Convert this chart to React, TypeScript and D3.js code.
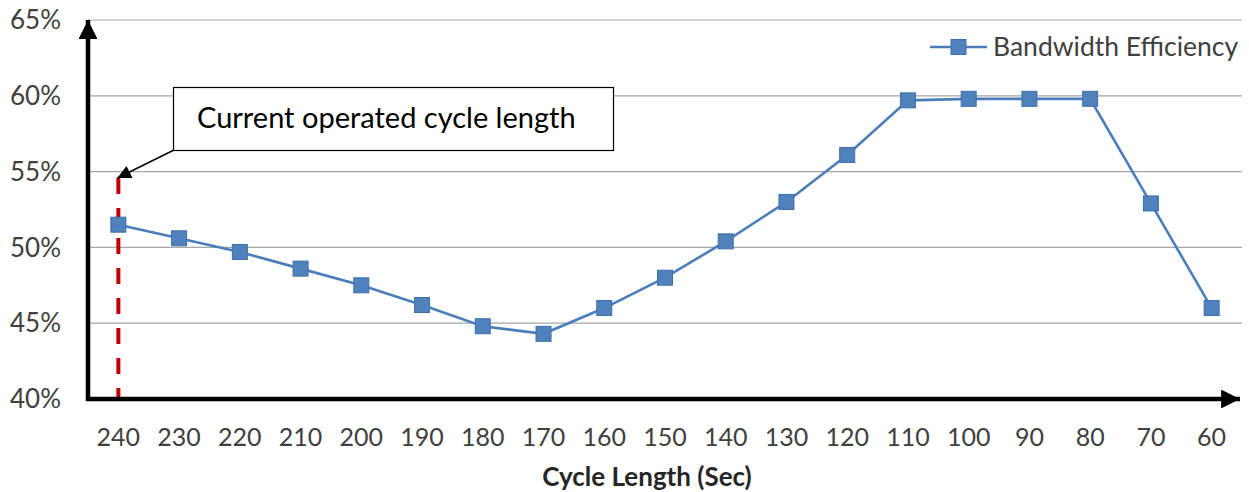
import React, { useEffect, useRef } from 'react';
import * as d3 from 'd3';

const cycleLengths = ['240', '230', '220', '210', '200', '190', '180', '170', '160', '150', '140', '130', '120', '110', '100', '90', '80', '70', '60'];
const efficiency = [51.5, 50.6, 49.7, 48.6, 47.5, 46.2, 44.8, 44.3, 46.0, 48.0, 50.4, 53.0, 56.1, 59.7, 59.8, 59.8, 59.8, 52.9, 46.0];
const yTicks = [40, 45, 50, 55, 60, 65];
const seriesName = 'Bandwidth Efficiency';
const xTitle = 'Cycle Length (Sec)';
const note = 'Current operated cycle length';
const currentCycle = '240';

const App: React.FC = () => {
  const svgRef = useRef<SVGSVGElement>(null);

  useEffect(() => {
    if (!svgRef.current) return;
    const svg = d3.select(svgRef.current);
    svg.selectAll('*').remove();

    const width = 1249;
    const height = 492;
    const left = 88;
    const right = 1242;
    const top = 20;
    const bottom = 399;
    const font = 'Lato, "Open Sans", sans-serif';
    const blue = '#4F81BD';
    const ms = 15; // marker size

    svg.attr('width', width).attr('height', height);

    const x = d3.scaleBand<string>().domain(cycleLengths).range([left, right]);
    const y = d3.scaleLinear().domain([40, 65]).range([bottom, top]);
    const cx = (d: string) => (x(d) as number) + x.bandwidth() / 2;

    const defs = svg.append('defs');
    defs.append('marker')
      .attr('id', 'axisArrow')
      .attr('viewBox', '0 0 10 10')
      .attr('refX', 10).attr('refY', 5)
      .attr('markerWidth', 4.2).attr('markerHeight', 4.2)
      .attr('markerUnits', 'strokeWidth')
      .attr('orient', 'auto')
      .append('path').attr('d', 'M0,0 L10,5 L0,10 Z').attr('fill', '#000');
    defs.append('marker')
      .attr('id', 'noteArrow')
      .attr('viewBox', '0 0 10 10')
      .attr('refX', 10).attr('refY', 5)
      .attr('markerWidth', 10).attr('markerHeight', 9)
      .attr('markerUnits', 'strokeWidth')
      .attr('orient', 'auto')
      .append('path').attr('d', 'M0,0 L10,5 L0,10 Z').attr('fill', '#000');

    // gridlines
    svg.append('g')
      .selectAll('line')
      .data(yTicks.filter(t => t > 40))
      .enter()
      .append('line')
      .attr('x1', left).attr('x2', right)
      .attr('y1', d => y(d)).attr('y2', d => y(d))
      .attr('stroke', '#a6a6a6')
      .attr('stroke-width', 1.2);

    // y labels
    svg.append('g')
      .selectAll('text')
      .data(yTicks)
      .enter()
      .append('text')
      .attr('x', 61)
      .attr('y', d => y(d))
      .attr('dy', '0.35em')
      .attr('text-anchor', 'end')
      .attr('font-family', font)
      .attr('font-size', 26)
      .attr('fill', '#404040')
      .text(d => `${d}%`);

    // x labels
    svg.append('g')
      .selectAll('text')
      .data(cycleLengths)
      .enter()
      .append('text')
      .attr('x', d => cx(d))
      .attr('y', 437)
      .attr('dy', '0.35em')
      .attr('text-anchor', 'middle')
      .attr('font-family', font)
      .attr('font-size', 25)
      .attr('fill', '#404040')
      .text(d => d);

    svg.append('text')
      .attr('x', 647)
      .attr('y', 477)
      .attr('dy', '0.35em')
      .attr('text-anchor', 'middle')
      .attr('font-family', font)
      .attr('font-size', 26)
      .attr('font-weight', 'bold')
      .attr('fill', '#262626')
      .text(xTitle);

    // red dashed line for current cycle
    svg.append('line')
      .attr('x1', cx(currentCycle)).attr('x2', cx(currentCycle))
      .attr('y1', 178).attr('y2', bottom)
      .attr('stroke', '#C00000')
      .attr('stroke-width', 4)
      .attr('stroke-dasharray', '16,14');

    // series line
    const line = d3.line<number>()
      .x((_, i) => cx(cycleLengths[i]))
      .y(d => y(d));
    svg.append('path')
      .datum(efficiency)
      .attr('d', line)
      .attr('fill', 'none')
      .attr('stroke', '#4A7EBB')
      .attr('stroke-width', 2.6);

    svg.append('g')
      .selectAll('rect')
      .data(efficiency)
      .enter()
      .append('rect')
      .attr('x', (_, i) => cx(cycleLengths[i]) - ms / 2)
      .attr('y', d => y(d) - ms / 2)
      .attr('width', ms)
      .attr('height', ms)
      .attr('fill', blue)
      .attr('stroke', '#3d6fad')
      .attr('stroke-width', 1);

    // axes with arrows
    svg.append('line')
      .attr('x1', left).attr('y1', bottom + 2)
      .attr('x2', left).attr('y2', top)
      .attr('stroke', '#000').attr('stroke-width', 4.5)
      .attr('marker-end', 'url(#axisArrow)');
    svg.append('line')
      .attr('x1', left - 2).attr('y1', bottom)
      .attr('x2', 1240).attr('y2', bottom)
      .attr('stroke', '#000').attr('stroke-width', 4.5)
      .attr('marker-end', 'url(#axisArrow)');

    // annotation
    svg.append('line')
      .attr('x1', 174).attr('y1', 150)
      .attr('x2', cx(currentCycle) - 1).attr('y2', 178)
      .attr('stroke', '#000').attr('stroke-width', 1.5)
      .attr('marker-end', 'url(#noteArrow)');
    svg.append('rect')
      .attr('x', 173.5).attr('y', 87.5)
      .attr('width', 440).attr('height', 63)
      .attr('fill', '#fff')
      .attr('stroke', '#000')
      .attr('stroke-width', 1.2);
    svg.append('text')
      .attr('x', 197)
      .attr('y', 118)
      .attr('dy', '0.35em')
      .attr('font-family', font)
      .attr('font-size', 29)
      .attr('fill', '#000')
      .text(note);

    // legend
    const lg = svg.append('g').attr('transform', 'translate(930,47)');
    lg.append('line').attr('x1', 0).attr('x2', 57).attr('y1', 0).attr('y2', 0)
      .attr('stroke', '#4A7EBB').attr('stroke-width', 2.6);
    lg.append('rect').attr('x', 28.5 - ms / 2).attr('y', -ms / 2).attr('width', ms).attr('height', ms)
      .attr('fill', blue).attr('stroke', '#3d6fad');
    lg.append('text')
      .attr('x', 63).attr('y', 0).attr('dy', '0.35em')
      .attr('font-family', font).attr('font-size', 26.5).attr('fill', '#404040')
      .text(seriesName);
  }, []);

  return (
    <svg
      ref={svgRef}
      style={{ position: 'absolute', left: 0, top: 0, background: '#fff' }}
    ></svg>
  );
};

export default App;
